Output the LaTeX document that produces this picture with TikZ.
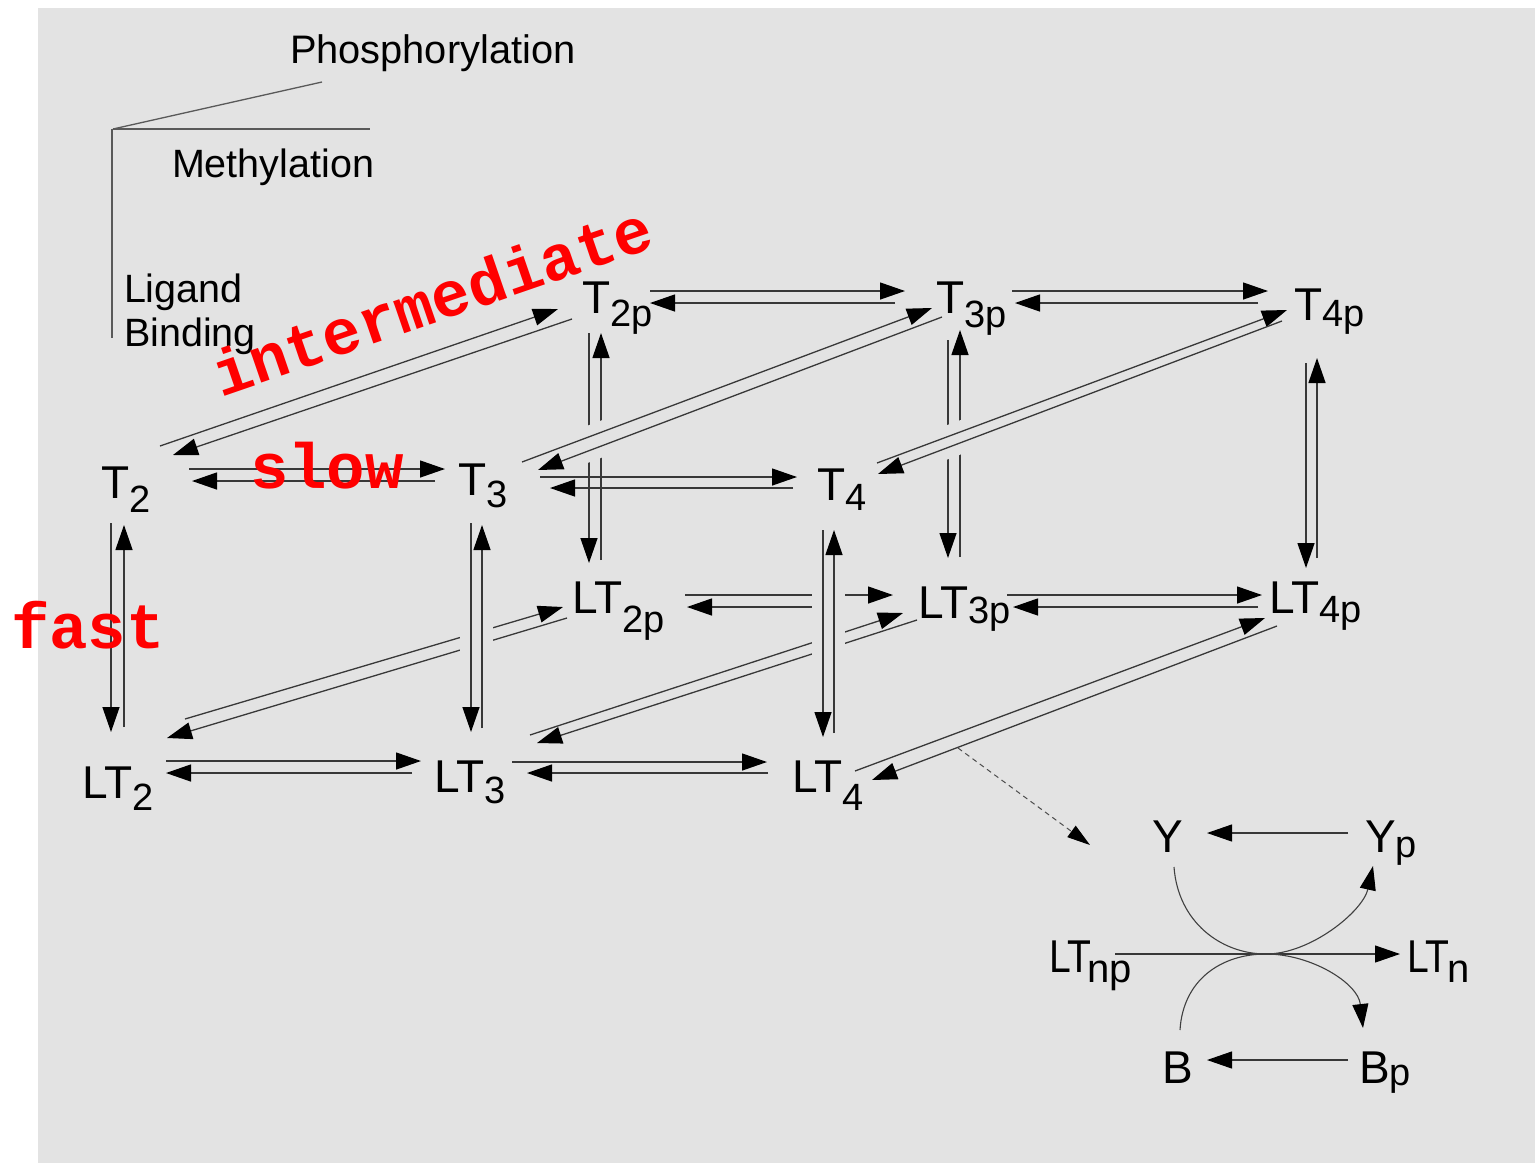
\documentclass[tikz,border=0pt]{standalone}
\usepackage{fontspec}
\usepackage{graphicx}
\setmainfont{Liberation Sans}
\newfontfamily\redfont{Liberation Mono}
\usetikzlibrary{arrows.meta}
\definecolor{bgc}{RGB}{227,227,227}
\newcommand{\lbl}[3]{\fontsize{46}{50}\selectfont #1\raisebox{-#3pt}{\fontsize{38}{42}\selectfont #2}}
\begin{document}
\begin{tikzpicture}[x=1pt,y=-1pt,
  lab/.style={anchor=base west, inner sep=0pt, outer sep=0pt, text=black},
  ar/.style={line width=1.3pt, draw=black!78, -{Triangle[length=25pt,width=17pt,color=black]}},
  halo/.style={line width=22pt, draw=bgc, shorten <=26pt, shorten >=26pt},
  legendline/.style={line width=1.3pt, draw=black!65},
  cur/.style={line width=1.1pt, draw=black!75, -{Triangle[length=24pt,width=16pt,color=black]}},
  dashar/.style={line width=1pt, draw=black!70, dash pattern=on 5pt off 4pt, -{Triangle[length=23pt,width=14pt,color=black]}},
  redtxt/.style={anchor=base west, inner sep=0pt, outer sep=0pt, text=red, font={\redfont\bfseries\fontsize{64}{70}\selectfont}}]
\useasboundingbox (0,0) rectangle (1535,1163);
\fill[white] (0,0) rectangle (1535,1163);
\fill[bgc] (38,8) rectangle (1535,1163);

% legend
\draw[legendline] (113,129) -- (322,82);
\draw[legendline] (113,129) -- (370,129);
\draw[legendline] (112,129) -- (112,338);
\node[lab, font=\fontsize{39.8}{44}\selectfont] (phos) at (290,63) {Phosphorylation};
\node[lab, font=\fontsize{39.5}{44}\selectfont] (meth) at (172,177) {Methylation};
\node[lab, font=\fontsize{39.5}{44}\selectfont] (lig) at (124,302) {Ligand};
\node[lab, font=\fontsize{39.5}{44}\selectfont] (bind) at (124,346) {Binding};

% state nodes
\node[lab] (T2) at (101,498) {\lbl{T}{2}{14}};
\node[lab] (T3) at (458,495) {\lbl{T}{3}{12}};
\node[lab] (T4) at (817,500) {\lbl{T}{4}{10}};
\node[lab] (T2p) at (582,313) {\lbl{T}{2p}{13}};
\node[lab] (T3p) at (936,313) {\lbl{T}{3p}{14}};
\node[lab] (T4p) at (1294,320) {\lbl{T}{4p}{6}};
\node[lab] (LT2) at (82,798) {\lbl{LT}{2}{12}};
\node[lab] (LT3) at (434,792) {\lbl{LT}{3}{11}};
\node[lab] (LT4) at (792,792) {\lbl{LT}{4}{18}};
\node[lab] (LT2p) at (572,613) {\lbl{LT}{2p}{19}};
\node[lab] (LT3p) at (918,618) {\lbl{LT}{3p}{5}};
\node[lab] (LT4p) at (1269,613) {\lbl{LT}{4p}{9}};
\node[lab] (Y) at (1152,852) {\fontsize{46}{50}\selectfont Y};
\node[lab] (Yp) at (1365,852) {\lbl{Y}{p}{5}};
\node[lab] (LTnp) at (1049,972) {\fontsize{46}{50}\selectfont\scalebox{0.85}[1]{LT}\kern-4pt\raisebox{-10pt}{\fontsize{40}{44}\selectfont np}};
\node[lab] (LTn) at (1407,972) {\fontsize{46}{50}\selectfont\scalebox{0.85}[1]{LT}\kern-2pt\raisebox{-10pt}{\fontsize{40}{44}\selectfont n}};
\node[lab] (B) at (1162,1083) {\fontsize{46}{50}\selectfont B};
\node[lab] (Bp) at (1359,1083) {\lbl{B}{p}{2}};
\coordinate (X) at (1266,954);
\coordinate (dS) at (958,748);
\coordinate (dE) at (1090,845);

% back lines (interrupted by front lines)
\draw[ar] ([shift={(7,20)}]T2p.base west) -- ([shift={(17,-50)}]LT2p.base west);
\draw[ar] ([shift={(29,-53)}]LT2p.base west) -- ([shift={(19,20)}]T2p.base west);
\draw[ar] ([shift={(12,27)}]T3p.base west) -- ([shift={(30,-60)}]LT3p.base west);
\draw[ar] ([shift={(42,-61)}]LT3p.base west) -- ([shift={(24,17)}]T3p.base west);
\draw[ar] ([shift={(113,-18)}]LT2p.base west) -- ([shift={(-25,-23)}]LT3p.base west);
\draw[ar] ([shift={(-103,-11)}]LT3p.base west) -- ([shift={(115,-6)}]LT2p.base west);
\draw[ar] ([shift={(103,-79)}]LT2.base west) -- ([shift={(-9,-6)}]LT2p.base west);
\draw[ar] ([shift={(-5,5)}]LT2p.base west) -- ([shift={(85,-60)}]LT2.base west);
\draw[ar] ([shift={(96,-57)}]LT3.base west) -- ([shift={(-15,-5)}]LT3p.base west);
\draw[ar] ([shift={(-1,2)}]LT3p.base west) -- ([shift={(103,-49)}]LT3.base west);

% halos of front lines
\draw[halo] ([shift={(13,28)}]T3.base west) -- ([shift={(37,-60)}]LT3.base west);
\draw[halo] ([shift={(48,-64)}]LT3.base west) -- ([shift={(24,30)}]T3.base west);
\draw[halo] ([shift={(6,30)}]T4.base west) -- ([shift={(31,-55)}]LT4.base west);
\draw[halo] ([shift={(42,-59)}]LT4.base west) -- ([shift={(17,30)}]T4.base west);
\draw[halo] ([shift={(64,-33)}]T3.base west) -- ([shift={(-4,-5)}]T3p.base west);
\draw[halo] ([shift={(6,4)}]T3p.base west) -- ([shift={(80,-25)}]T3.base west);
\draw[halo] ([shift={(60,-37)}]T4.base west) -- ([shift={(-7,-10)}]T4p.base west);
\draw[halo] ([shift={(-12,1)}]T4p.base west) -- ([shift={(61,-26)}]T4.base west);

% front lines
\draw[ar] ([shift={(88,-29)}]T2.base west) -- ([shift={(-13,-26)}]T3.base west);
\draw[ar] ([shift={(-23,-14)}]T3.base west) -- ([shift={(91,-17)}]T2.base west);
\draw[ar] ([shift={(82,-18)}]T3.base west) -- ([shift={(-20,-23)}]T4.base west);
\draw[ar] ([shift={(-24,-12)}]T4.base west) -- ([shift={(92,-7)}]T3.base west);
\draw[ar] ([shift={(68,-22)}]T2p.base west) -- ([shift={(-31,-22)}]T3p.base west);
\draw[ar] ([shift={(-41,-10)}]T3p.base west) -- ([shift={(68,-10)}]T2p.base west);
\draw[ar] ([shift={(76,-22)}]T3p.base west) -- ([shift={(-26,-29)}]T4p.base west);
\draw[ar] ([shift={(-36,-17)}]T4p.base west) -- ([shift={(79,-10)}]T3p.base west);
\draw[ar] ([shift={(84,-37)}]LT2.base west) -- ([shift={(-13,-31)}]LT3.base west);
\draw[ar] ([shift={(-22,-19)}]LT3.base west) -- ([shift={(84,-25)}]LT2.base west);
\draw[ar] ([shift={(78,-30)}]LT3.base west) -- ([shift={(-25,-30)}]LT4.base west);
\draw[ar] ([shift={(-24,-19)}]LT4.base west) -- ([shift={(93,-19)}]LT3.base west);
\draw[ar] ([shift={(89,-23)}]LT3p.base west) -- ([shift={(-7,-18)}]LT4p.base west);
\draw[ar] ([shift={(-11,-6)}]LT4p.base west) -- ([shift={(95,-11)}]LT3p.base west);
\draw[ar] ([shift={(10,25)}]T2.base west) -- ([shift={(29,-66)}]LT2.base west);
\draw[ar] ([shift={(42,-71)}]LT2.base west) -- ([shift={(23,27)}]T2.base west);
\draw[ar] ([shift={(13,28)}]T3.base west) -- ([shift={(37,-60)}]LT3.base west);
\draw[ar] ([shift={(48,-64)}]LT3.base west) -- ([shift={(24,30)}]T3.base west);
\draw[ar] ([shift={(6,30)}]T4.base west) -- ([shift={(31,-55)}]LT4.base west);
\draw[ar] ([shift={(42,-59)}]LT4.base west) -- ([shift={(17,30)}]T4.base west);
\draw[ar] ([shift={(12,43)}]T4p.base west) -- ([shift={(37,-45)}]LT4p.base west);
\draw[ar] ([shift={(48,-55)}]LT4p.base west) -- ([shift={(23,38)}]T4p.base west);
\draw[ar] ([shift={(59,-52)}]T2.base west) -- ([shift={(-24,-4)}]T2p.base west);
\draw[ar] ([shift={(-10,6)}]T2p.base west) -- ([shift={(72,-43)}]T2.base west);
\draw[ar] ([shift={(64,-33)}]T3.base west) -- ([shift={(-4,-5)}]T3p.base west);
\draw[ar] ([shift={(6,4)}]T3p.base west) -- ([shift={(80,-25)}]T3.base west);
\draw[ar] ([shift={(60,-37)}]T4.base west) -- ([shift={(-7,-10)}]T4p.base west);
\draw[ar] ([shift={(-12,1)}]T4p.base west) -- ([shift={(61,-26)}]T4.base west);
\draw[ar] ([shift={(63,-21)}]LT4.base west) -- ([shift={(-4,5)}]LT4p.base west);
\draw[ar] ([shift={(8,13)}]LT4p.base west) -- ([shift={(80,-12)}]LT4.base west);

% output part
\draw[dashar] (dS) -- (dE);
\draw[ar, line width=1.1pt] ([shift={(-17,-19)}]Yp.base west) -- ([shift={(55,-19)}]Y.base west);
\draw[ar, line width=1.1pt] ([shift={(-11,-23)}]Bp.base west) -- ([shift={(45,-23)}]B.base west);
\draw[ar, line width=1.1pt] ([shift={(66,-18)}]LTnp.base west) -- ([shift={(-7,-18)}]LTn.base west);
\draw[cur] ([shift={(22,15)}]Y.base west) .. controls ([shift={(26,70)}]Y.base west) and ([shift={(-45,0)}]X) .. (X) .. controls ([shift={(45,0)}]X) and ([shift={(-2,59)}]Yp.base west) .. ([shift={(8,14)}]Yp.base west);
\draw[cur] ([shift={(18,-53)}]B.base west) .. controls ([shift={(21,-103)}]B.base west) and ([shift={(-45,0)}]X) .. (X) .. controls ([shift={(45,0)}]X) and ([shift={(-1,-100)}]Bp.base west) .. ([shift={(4,-55)}]Bp.base west);

% red annotations
\node[redtxt] (slow) at (250,488) {slow};
\node[redtxt] (fast) at (11,648) {fast};
\node[redtxt, rotate=19] (inter) at (221,397) {intermediate};
\end{tikzpicture}
\end{document}
